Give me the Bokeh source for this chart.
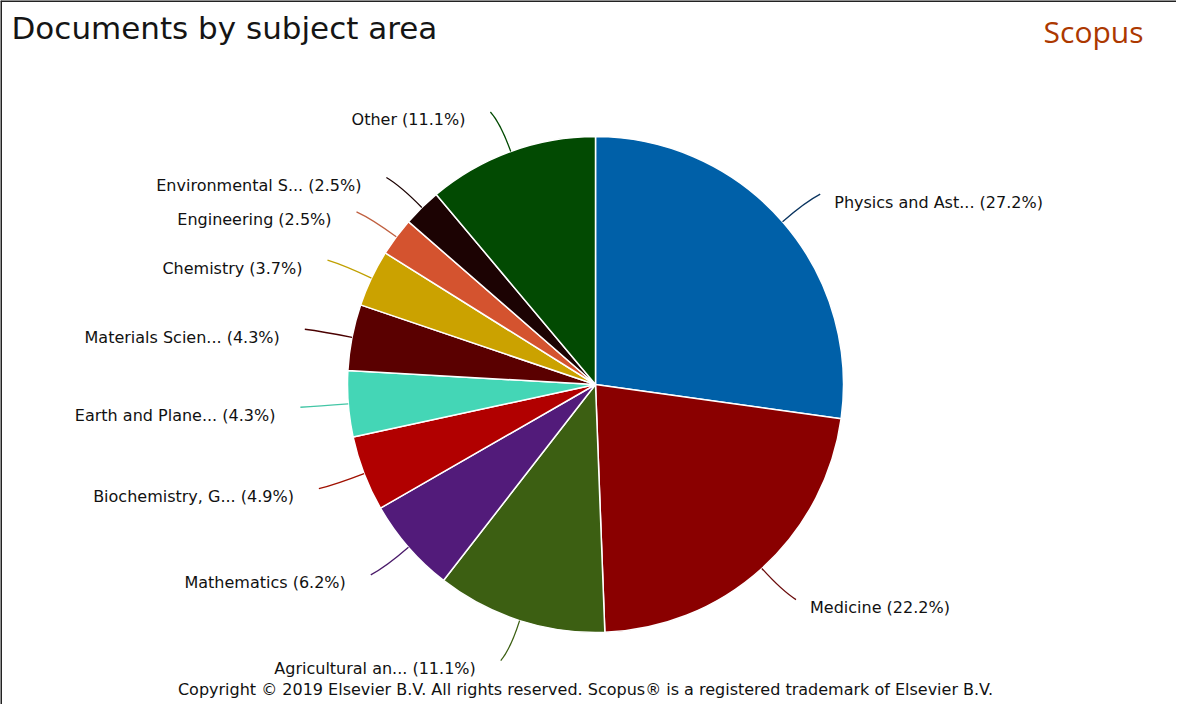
import math
from bokeh.plotting import figure
from bokeh.models import Range1d, ColumnDataSource
from bokeh.core.properties import value
from bokeh.embed import file_html
from bokeh.resources import INLINE

# ---- data ----
subjects = ["Physics and Ast...", "Medicine", "Agricultural an...", "Mathematics",
            "Biochemistry, G...", "Earth and Plane...", "Materials Scien...",
            "Chemistry", "Engineering", "Environmental S...", "Other"]
percents = [27.2, 22.2, 11.1, 6.2, 4.9, 4.3, 4.3, 3.7, 2.5, 2.5, 11.1]
colors = ["#0060a8", "#8a0000", "#3c5f12", "#521b7a", "#b10000", "#44d6b6",
          "#5a0000", "#cba200", "#d4532f", "#1c0303", "#024a02"]
leader_colors = ["#0b3560", "#6a0a0a", "#3c5f12", "#4a1a6a", "#a01000", "#44c6a6",
                 "#4a0000", "#c0a000", "#c06040", "#1c0303", "#024a02"]

title_text = "Documents by subject area"
brand_text = "Scopus"
copyright_text = ("Copyright \u00a9 2019 Elsevier B.V. All rights reserved. "
                  "Scopus\u00ae is a registered trademark of Elsevier B.V.")

W, H = 1176, 704
CX, CY, R = 595, 320, 248
FONT = "DejaVu Sans"

p = figure(width=W, height=H, x_range=Range1d(0, W), y_range=Range1d(0, H),
           output_backend="svg", toolbar_location=None,
           x_axis_location=None, y_axis_location=None, min_border=0)
p.grid.visible = False
p.outline_line_color = None
p.background_fill_color = "white"
p.border_fill_color = "white"

total = sum(percents)
starts, ends, mids = [], [], []
cum = 0.0
for v in percents:
    a0 = math.pi / 2 - 2 * math.pi * cum / total
    cum += v
    a1 = math.pi / 2 - 2 * math.pi * cum / total
    starts.append(a1)
    ends.append(a0)
    mids.append((a0 + a1) / 2)

src = ColumnDataSource(dict(start=starts, end=ends, color=colors))
p.wedge(x=CX, y=CY, radius=R, start_angle="start", end_angle="end",
        fill_color="color", line_color="white", line_width=1.5, source=src)

# leader lines and labels
x0s, y0s, x1s, y1s, cxs, cys = [], [], [], [], [], []
lx, ly, ltext, lalign = [], [], [], []
for name, v, m in zip(subjects, percents, mids):
    c, s = math.cos(m), math.sin(m)
    sign = 1 if c >= 0 else -1
    x0, y0 = CX + R * c, CY + R * s
    cx_, cy_ = CX + (R + 30) * c, CY + (R + 30) * s
    x1, y1 = CX + (R + 42) * c + sign * 6, CY + (R + 42) * s
    x0s.append(x0); y0s.append(y0); x1s.append(x1); y1s.append(y1)
    cxs.append(cx_); cys.append(cy_)
    lx.append(x1 + (14 if sign > 0 else -25))
    ly.append(y1 - 8)
    ltext.append(f"{name} ({v}%)")
    lalign.append("left" if sign > 0 else "right")

p.quadratic(x0=x0s, y0=y0s, x1=x1s, y1=y1s, cx=cxs, cy=cys,
            line_color=leader_colors, line_width=1.3)

lsrc = ColumnDataSource(dict(x=lx, y=ly, text=ltext, align=lalign))
p.text(x="x", y="y", text="text", text_align="align", text_baseline="middle",
       text_font=value(FONT), text_font_size="16px", text_color="#111111",
       source=lsrc)

# title, brand, copyright
p.text(x=[11], y=[H - 27], text=[title_text], text_font=value(FONT),
       text_font_size="31px", text_color="#151515", text_baseline="middle")
p.text(x=[1143], y=[H - 31], text=[brand_text], text_font=value("Open Sans"),
       text_font_size="30px", text_color="#ac3800", text_baseline="middle",
       text_align="right")
p.text(x=[585], y=[15], text=[copyright_text], text_font=value(FONT),
       text_font_size="16px", text_color="#111111", text_baseline="middle",
       text_align="center")

# frame lines (left and top)
p.segment(x0=[0, 0], y0=[0, H], x1=[0, W], y1=[H, H],
          line_color="#222222", line_width=3)

open("out.html", "w").write(file_html(p, INLINE))
